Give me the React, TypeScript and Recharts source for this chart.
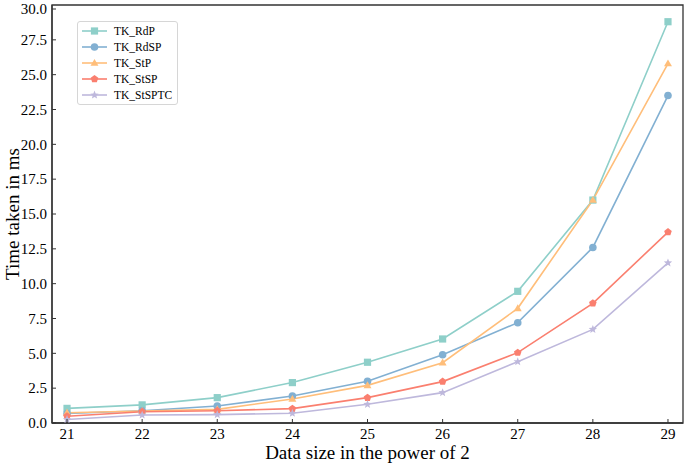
import { LineChart, Line, XAxis, YAxis, ReferenceArea, Label } from 'recharts';

const dataSizes = [21, 22, 23, 24, 25, 26, 27, 28, 29];
const rdP = [1.05, 1.3, 1.82, 2.9, 4.36, 6.03, 9.45, 16.0, 28.8];
const rdSP = [0.68, 0.88, 1.22, 1.94, 2.99, 4.9, 7.2, 12.6, 23.5];
const stP = [0.74, 0.86, 0.98, 1.72, 2.7, 4.33, 8.23, 16.0, 25.8];
const stSP = [0.48, 0.81, 0.88, 1.03, 1.82, 2.97, 5.05, 8.59, 13.7];
const stSPTC = [0.25, 0.57, 0.6, 0.7, 1.34, 2.18, 4.4, 6.72, 11.49];
const xTicks = [21, 22, 23, 24, 25, 26, 27, 28, 29];
const yTicks = [0, 2.5, 5, 7.5, 10, 12.5, 15, 17.5, 20, 22.5, 25, 27.5, 30];

const data = dataSizes.map((x, i) => ({
  x,
  rdP: rdP[i],
  rdSP: rdSP[i],
  stP: stP[i],
  stSP: stSP[i],
  stSPTC: stSPTC[i],
}));

const FONT = '"Liberation Serif", "Times New Roman", serif';
const AXIS = '#333333';

type Shape = 'square' | 'circle' | 'triangle' | 'pentagon' | 'star';

const series: { key: string; name: string; color: string; shape: Shape }[] = [
  { key: 'rdP', name: 'TK_RdP', color: '#8ECFC9', shape: 'square' },
  { key: 'rdSP', name: 'TK_RdSP', color: '#82B0D2', shape: 'circle' },
  { key: 'stP', name: 'TK_StP', color: '#FFBE7A', shape: 'triangle' },
  { key: 'stSP', name: 'TK_StSP', color: '#FA7F6F', shape: 'pentagon' },
  { key: 'stSPTC', name: 'TK_StSPTC', color: '#BEB8DC', shape: 'star' },
];

const polygon = (cx: number, cy: number, n: number, r: number, inner?: number) => {
  const pts: string[] = [];
  const count = inner ? n * 2 : n;
  for (let i = 0; i < count; i++) {
    const rad = inner && i % 2 === 1 ? inner : r;
    const a = -Math.PI / 2 + (i * 2 * Math.PI) / count;
    pts.push(`${cx + rad * Math.cos(a)},${cy + rad * Math.sin(a)}`);
  }
  return pts.join(' ');
};

const Marker = ({ cx, cy, shape, color }: { cx: number; cy: number; shape: Shape; color: string }) => {
  if (cx == null || cy == null) return null;
  switch (shape) {
    case 'square':
      return <rect x={cx - 3.6} y={cy - 3.6} width={7.2} height={7.2} fill={color} />;
    case 'circle':
      return <circle cx={cx} cy={cy} r={3.8} fill={color} />;
    case 'triangle':
      return <polygon points={polygon(cx, cy + 0.5, 3, 4.6)} fill={color} />;
    case 'pentagon':
      return <polygon points={polygon(cx, cy, 5, 4)} fill={color} />;
    case 'star':
      return <polygon points={polygon(cx, cy, 5, 4.4, 1.9)} fill={color} />;
  }
};

const XTick = (props: any) => {
  const { x, y, payload } = props;
  const axisY = y - 16;
  return (
    <g>
      <line x1={x} y1={axisY} x2={x} y2={axisY - 4} stroke={AXIS} strokeWidth={1} />
      <text x={x} y={y} textAnchor="middle" fontFamily={FONT} fontSize={15} fill="#000">
        {payload.value}
      </text>
    </g>
  );
};

const YTick = (props: any) => {
  const { x, y, payload } = props;
  const axisX = x + 5;
  return (
    <g>
      <line x1={axisX} y1={y} x2={axisX + 4} y2={y} stroke={AXIS} strokeWidth={1} />
      <text x={x} y={y} dy="0.35em" textAnchor="end" fontFamily={FONT} fontSize={15} fill="#000">
        {payload.value.toFixed(1)}
      </text>
    </g>
  );
};

const LegendBox = () => (
  <div
    style={{
      position: 'absolute',
      left: 77,
      top: 21,
      border: '1px solid #d6d6d6',
      borderRadius: 3,
      background: '#fff',
      padding: '1px 5px 1px 2px',
    }}
  >
    {series.map((s) => (
      <div key={s.key} style={{ display: 'flex', alignItems: 'center', height: 16 }}>
        <svg width={30} height={12} style={{ marginRight: 4 }}>
          <line x1={2} y1={6} x2={27} y2={6} stroke={s.color} strokeWidth={1.6} />
          <Marker cx={14.5} cy={6} shape={s.shape} color={s.color} />
        </svg>
        <span style={{ fontFamily: FONT, fontSize: 11.5, color: '#000', lineHeight: '16px' }}>{s.name}</span>
      </div>
    ))}
  </div>
);

export default function App() {
  return (
    <div style={{ position: 'absolute', left: 0, top: 0, width: 685, height: 463, background: '#fff' }}>
      <LineChart width={685} height={463} data={data} margin={{ top: 5, right: 2, left: 0, bottom: 0 }}>
        <XAxis
          dataKey="x"
          type="number"
          domain={[20.8, 29.2]}
          ticks={xTicks}
          height={40}
          tickSize={0}
          tickMargin={16}
          tick={<XTick />}
          tickLine={false}
          axisLine={{ stroke: AXIS, strokeWidth: 1.3 }}
          allowDataOverflow
        >
          <Label
            value="Data size in the power of 2"
            position="insideBottom"
            offset={4}
            style={{ fontFamily: FONT, fontSize: 19, fill: '#000' }}
          />
        </XAxis>
        <YAxis
          type="number"
          domain={[0, 30]}
          ticks={yTicks}
          width={52}
          tickSize={0}
          tickMargin={5}
          tick={<YTick />}
          tickLine={false}
          axisLine={{ stroke: AXIS, strokeWidth: 1.3 }}
          allowDataOverflow
        >
          <Label
            value="Time taken in ms"
            angle={-90}
            position="insideLeft"
            offset={12}
            style={{ textAnchor: 'middle', fontFamily: FONT, fontSize: 19, fill: '#000' }}
          />
        </YAxis>
        <ReferenceArea x1={20.8} x2={29.2} y1={0} y2={30} fill="none" stroke={AXIS} strokeWidth={1.3} ifOverflow="visible" />
        {series.map((s) => (
          <Line
            key={s.key}
            dataKey={s.key}
            name={s.name}
            type="linear"
            stroke={s.color}
            strokeWidth={1.6}
            isAnimationActive={false}
            dot={(p: any) => <Marker key={`${s.key}-${p.index}`} cx={p.cx} cy={p.cy} shape={s.shape} color={s.color} />}
            activeDot={false}
          />
        ))}
      </LineChart>
      <LegendBox />
    </div>
  );
}
